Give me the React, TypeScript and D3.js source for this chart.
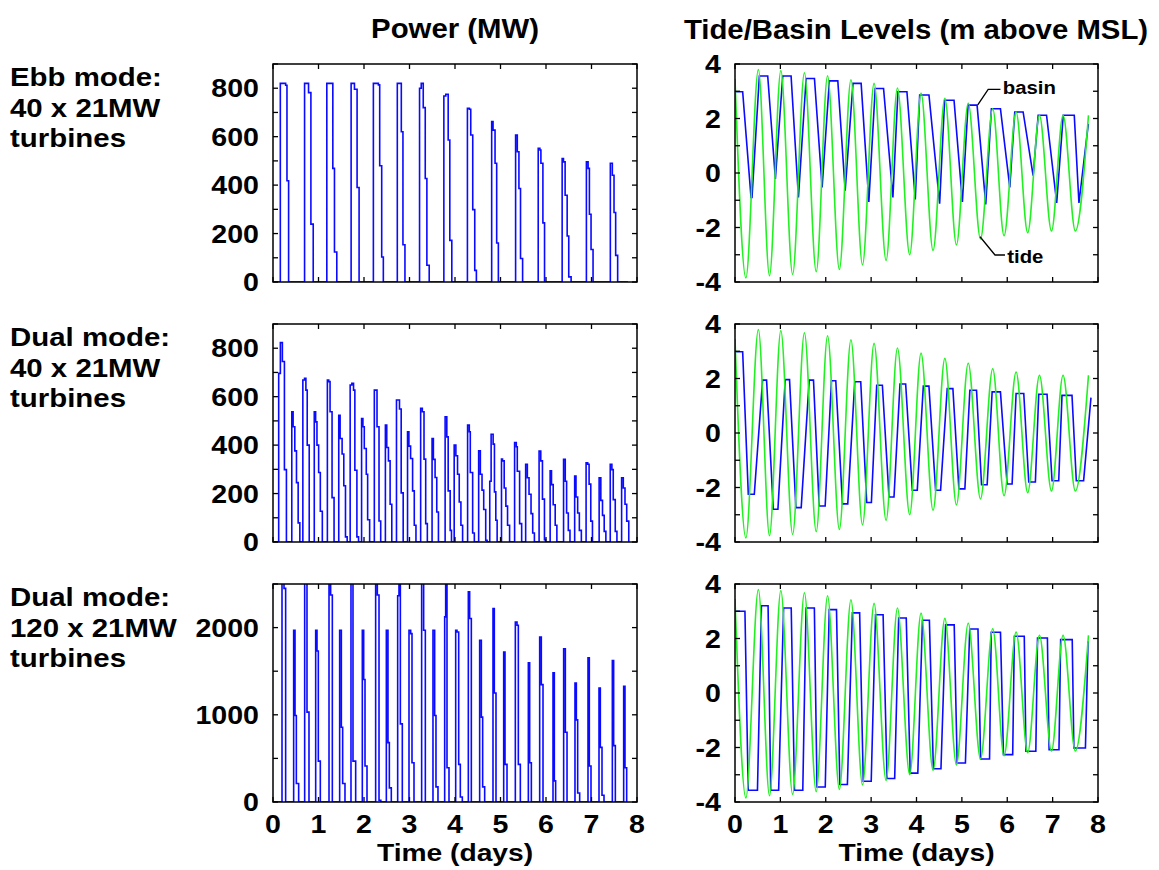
import React from "react";
import * as d3 from "d3";

// ---------- data (time in days, power in MW, levels in m above MSL) ----------
const dayTicks = [0, 1, 2, 3, 4, 5, 6, 7, 8];
const powerTicks40 = [0, 100, 200, 300, 400, 500, 600, 700, 800, 900];
const powerLabels40 = [0, 200, 400, 600, 800];
const powerTicks120 = [0, 500, 1000, 1500, 2000, 2500];
const powerLabels120 = [0, 1000, 2000];
const levelTicks = [-4, -3, -2, -1, 0, 1, 2, 3, 4];
const levelLabels = [-4, -2, 0, 2, 4];

const rowLabels = [
  ["Ebb mode:", "40 x 21MW", "turbines"],
  ["Dual mode:", "40 x 21MW", "turbines"],
  ["Dual mode:", "120 x 21MW", "turbines"],
];

// step points [day, MW]
const powerEbb40: [number, number][] = [
  [0, 0],
  [0.161, 820], [0.278, 812], [0.307, 418], [0.343, 0],
  [0.694, 820], [0.781, 782], [0.833, 239], [0.884, 0],
  [1.183, 820], [1.315, 469], [1.351, 124], [1.402, 0],
  [1.717, 820], [1.79, 796], [1.848, 390], [1.892, 0],
  [2.206, 820], [2.316, 814], [2.345, 480], [2.389, 103], [2.425, 0],
  [2.732, 820], [2.82, 620], [2.856, 154], [2.9, 0],
  [3.221, 800], [3.258, 820], [3.302, 720], [3.346, 427], [3.382, 69], [3.433, 0],
  [3.755, 768], [3.798, 775], [3.85, 586], [3.886, 172], [3.93, 0],
  [4.273, 717], [4.317, 713], [4.346, 607], [4.39, 299], [4.434, 48], [4.47, 0],
  [4.806, 662], [4.836, 627], [4.88, 490], [4.916, 161], [4.953, 0],
  [5.332, 607], [5.369, 538], [5.405, 386], [5.44, 97], [5.486, 0],
  [5.829, 552], [5.866, 545], [5.888, 490], [5.932, 244], [5.968, 0],
  [6.355, 510], [6.384, 496], [6.42, 358], [6.465, 190], [6.5, 21], [6.552, 0],
  [6.888, 496], [6.925, 469], [6.954, 280], [6.99, 134], [7.034, 0],
  [7.414, 490], [7.458, 441], [7.495, 287], [7.531, 110], [7.575, 0],
  [7.8, 0],
];

const powerDual40: [number, number][] = [
  [0, 0],
  [0.125, 696], [0.162, 823], [0.206, 745], [0.251, 299], [0.295, 0],
  [0.413, 538], [0.442, 476], [0.479, 376], [0.516, 245], [0.553, 79], [0.59, 0],
  [0.656, 669], [0.693, 676], [0.723, 627], [0.752, 400], [0.796, 0],
  [0.907, 538], [0.937, 496], [0.966, 400], [1.003, 287], [1.04, 127], [1.084, 0],
  [1.195, 669], [1.225, 662], [1.254, 538], [1.298, 183], [1.342, 0],
  [1.445, 523], [1.475, 427], [1.519, 363], [1.556, 232], [1.593, 21], [1.63, 0],
  [1.696, 648], [1.733, 655], [1.77, 627], [1.799, 296], [1.844, 21], [1.88, 0],
  [1.947, 510], [1.976, 476], [2.006, 386], [2.05, 280], [2.08, 92], [2.124, 0],
  [2.227, 627], [2.286, 476], [2.33, 87], [2.367, 0],
  [2.47, 483], [2.5, 390], [2.537, 335], [2.574, 156], [2.611, 0],
  [2.714, 586], [2.78, 549], [2.817, 203], [2.861, 0],
  [2.957, 455], [2.987, 396], [3.024, 345], [3.068, 211], [3.105, 69], [3.142, 0],
  [3.245, 552], [3.282, 538], [3.319, 342], [3.356, 76], [3.392, 0],
  [3.496, 427], [3.525, 341], [3.562, 266], [3.599, 124], [3.636, 0],
  [3.783, 517], [3.82, 434], [3.85, 211], [3.894, 48], [3.923, 0],
  [3.982, 400], [4.019, 356], [4.056, 280], [4.093, 165], [4.13, 69], [4.167, 0],
  [4.277, 483], [4.314, 455], [4.336, 287], [4.388, 37], [4.425, 0],
  [4.52, 376], [4.557, 280], [4.594, 214], [4.631, 134], [4.675, 7], [4.705, 0],
  [4.764, 251], [4.794, 445], [4.838, 404], [4.867, 207], [4.897, 90], [4.926, 0],
  [5.022, 342], [5.044, 335], [5.081, 223], [5.118, 148], [5.155, 69], [5.2, 0],
  [5.31, 411], [5.347, 393], [5.369, 292], [5.42, 76], [5.465, 0],
  [5.553, 321], [5.59, 265], [5.627, 197], [5.671, 117], [5.708, 37], [5.745, 0],
  [5.848, 375], [5.885, 335], [5.922, 177], [5.966, 10], [5.99, 0],
  [6.091, 294], [6.121, 237], [6.158, 154], [6.202, 69], [6.239, 0],
  [6.386, 341], [6.423, 251], [6.453, 120], [6.49, 48], [6.527, 0],
  [6.63, 272], [6.659, 186], [6.696, 120], [6.733, 48], [6.777, 0],
  [6.881, 327], [6.917, 321], [6.947, 239], [6.984, 86], [7.021, 0],
  [7.168, 265], [7.205, 172], [7.242, 110], [7.279, 44], [7.316, 0],
  [7.412, 321], [7.448, 299], [7.478, 175], [7.522, 44], [7.559, 0],
  [7.662, 265], [7.699, 223], [7.736, 156], [7.774, 86], [7.819, 0],
];

const powerDual120: [number, number][] = [
  [0, 0],
  [0.198, 2520], [0.242, 2450], [0.278, 0],
  [0.454, 1969], [0.484, 992], [0.513, 212], [0.564, 0],
  [0.696, 2520], [0.747, 1031], [0.791, 0],
  [0.938, 1969], [0.967, 1731], [0.996, 469], [1.04, 0],
  [1.231, 2520], [1.267, 2373], [1.304, 0],
  [1.465, 1969], [1.502, 858], [1.531, 212], [1.582, 0],
  [1.714, 2520], [1.758, 469], [1.817, 0],
  [1.963, 1969], [1.993, 1404], [2.022, 412], [2.066, 0],
  [2.256, 2520], [2.293, 2373], [2.33, 19], [2.37, 0],
  [2.491, 1969], [2.527, 681], [2.557, 162], [2.6, 0],
  [2.74, 2365], [2.769, 2520], [2.799, 896], [2.842, 0],
  [2.989, 1969], [3.026, 1931], [3.055, 450], [3.099, 0],
  [3.267, 2520], [3.311, 1969], [3.348, 0],
  [3.516, 1969], [3.553, 992], [3.582, 173], [3.626, 0],
  [3.773, 2123], [3.795, 2520], [3.824, 392], [3.868, 0],
  [4.015, 1969], [4.044, 1950], [4.081, 431], [4.117, 58], [4.161, 0],
  [4.293, 2411], [4.322, 2104], [4.359, 0],
  [4.542, 1854], [4.579, 973], [4.608, 173], [4.652, 0],
  [4.835, 2219], [4.864, 1250], [4.901, 0],
  [5.07, 1719], [5.099, 431], [5.143, 0],
  [5.326, 2065], [5.363, 2027], [5.392, 431], [5.436, 0],
  [5.612, 1596], [5.641, 450], [5.678, 0],
  [5.861, 1892], [5.897, 1346], [5.934, 0],
  [6.154, 1481], [6.183, 242], [6.212, 0],
  [6.388, 1758], [6.425, 800], [6.462, 0],
  [6.637, 1365], [6.667, 942], [6.696, 104], [6.74, 0],
  [6.923, 1654], [6.952, 412], [6.989, 0],
  [7.165, 1308], [7.194, 627], [7.231, 77], [7.275, 0],
  [7.458, 1623], [7.487, 646], [7.524, 0],
  [7.707, 1327], [7.736, 392], [7.773, 0],
];

// tide extrema [day, m]
const tideLevel: [number, number][] = [
  [0, 3.45], [0.24, -3.85], [0.515, 3.8], [0.76, -3.77], [1.01, 3.76], [1.27, -3.72],
  [1.53, 3.68], [1.79, -3.62], [2.04, 3.57], [2.3, -3.54], [2.555, 3.42], [2.81, -3.37],
  [3.065, 3.29], [3.33, -3.21], [3.58, 3.12], [3.85, -3.0], [4.1, 2.93], [4.365, -2.84],
  [4.625, 2.74], [4.88, -2.64], [5.14, 2.56], [5.41, -2.42], [5.68, 2.36], [5.93, -2.3],
  [6.195, 2.24], [6.45, -2.19], [6.71, 2.12], [6.975, -2.13], [7.23, 2.12], [7.5, -2.13],
  [7.79, 2.12],
];

// basin level vertices [day, m]
const basinEbb40: [number, number][] = [
  [0, 2.98], [0.169, 2.98], [0.353, -0.9], [0.375, -0.9], [0.537, 3.56], [0.721, 3.56],
  [0.89, -0.22], [1.052, 3.56], [1.236, 3.56], [1.398, -0.9], [1.567, 3.47], [1.751, 3.47],
  [1.92, -0.53], [2.08, 3.38], [2.266, 3.38], [2.428, -0.65], [2.6, 3.29], [2.78, 3.29],
  [2.95, -1.06], [3.09, 3.1], [3.274, 3.1], [3.48, -0.9], [3.591, 2.98], [3.789, 2.98],
  [3.973, -0.97], [4.07, 2.86], [4.275, 2.86], [4.51, -1.13], [4.62, 2.67], [4.827, 2.67],
  [5.011, -1.06], [5.136, 2.49], [5.335, 2.49], [5.526, -1.15], [5.651, 2.36], [5.85, 2.36],
  [6.056, -0.53], [6.166, 2.24], [6.35, 2.24], [6.57, -0.1], [6.682, 2.12], [6.866, 2.12],
  [7.09, -1.1], [7.234, 2.12], [7.477, 2.12], [7.58, -1.1], [7.787, 1.8],
];

const basinDual40: [number, number][] = [
  [0, 2.98], [0.169, 2.98], [0.293, -2.25], [0.425, -2.25], [0.608, 1.94], [0.696, 1.94],
  [0.843, -2.8], [0.946, -2.8], [1.107, 1.96], [1.202, 1.96], [1.342, -2.74], [1.459, -2.74],
  [1.635, 1.94], [1.73, 1.94], [1.855, -2.68], [1.987, -2.68], [2.126, 1.92], [2.221, 1.92],
  [2.368, -2.6], [2.485, -2.6], [2.639, 1.88], [2.771, 1.88], [2.903, -2.55], [3.006, -2.55],
  [3.123, 1.75], [3.248, 1.75], [3.394, -2.35], [3.504, -2.35], [3.636, 1.8], [3.761, 1.8],
  [3.907, -2.1], [4.017, -2.1], [4.15, 1.72], [4.274, 1.72], [4.421, -2.1], [4.531, -2.1],
  [4.677, 1.63], [4.802, 1.63], [4.934, -2.05], [5.066, -2.05], [5.176, 1.57], [5.323, 1.57],
  [5.433, -1.9], [5.557, -1.9], [5.667, 1.51], [5.85, 1.51], [5.997, -1.87], [6.107, -1.87],
  [6.195, 1.45], [6.364, 1.45], [6.474, -1.8], [6.62, -1.8], [6.694, 1.42], [6.877, 1.42],
  [6.987, -1.75], [7.134, -1.75], [7.207, 1.38], [7.427, 1.38], [7.522, -1.75], [7.683, -1.75],
  [7.845, 1.3],
];

const basinDual120: [number, number][] = [
  [0, 3.0], [0.219, 3.0], [0.291, -3.57], [0.495, -3.57], [0.583, 3.2], [0.729, 3.2],
  [0.787, -3.57], [0.962, -3.57], [1.071, 3.12], [1.239, 3.12], [1.311, -3.57], [1.494, -3.57],
  [1.566, 3.12], [1.749, 3.12], [1.807, -3.45], [1.989, -3.45], [2.077, 3.06], [2.237, 3.06],
  [2.31, -3.36], [2.477, -3.36], [2.587, 2.94], [2.747, 2.94], [2.827, -3.24], [3.002, -3.24],
  [3.097, 2.87], [3.264, 2.87], [3.352, -3.14], [3.519, -3.14], [3.607, 2.75], [3.774, 2.75],
  [3.862, -2.94], [4.029, -2.94], [4.131, 2.67], [4.284, 2.67], [4.372, -2.78], [4.539, -2.78],
  [4.641, 2.5], [4.831, 2.5], [4.896, -2.57], [5.078, -2.57], [5.173, 2.35], [5.355, 2.35],
  [5.413, -2.42], [5.61, -2.42], [5.647, 2.23], [5.851, 2.23], [5.916, -2.26], [6.12, -2.26],
  [6.157, 2.08], [6.375, 2.08], [6.412, -2.14], [6.63, -2.14], [6.667, 2.02], [6.885, 2.02],
  [6.922, -2.08], [7.14, -2.08], [7.177, 1.96], [7.432, 1.96], [7.468, -2.02], [7.723, -2.02],
  [7.781, 1.9],
];

// annotation anchors in data units (top-right panel)
const basinLeader: [number, number][] = [[5.35, 2.5], [5.58, 3.07], [5.85, 3.07]];
const tideLeader: [number, number][] = [[5.4, -2.34], [5.73, -3.01], [5.95, -3.01]];

// ---------- layout ----------
const FONT = "'Liberation Sans', Arial, Helvetica, sans-serif";
const BLUE = "#0a0aff";
const GREEN = "#22f022";
const rowTops = [64, 324, 584];
const PANEL_H = 218;
const LEFT_X = [273, 637];
const RIGHT_X = [735, 1098];

function T(props: {
  x: number;
  y: number;
  size: number;
  sx?: number;
  anchor?: "start" | "middle" | "end";
  dy?: string;
  children: React.ReactNode;
}) {
  const { x, y, size, sx = 1, anchor = "start", dy } = props;
  return (
    <text
      transform={`translate(${x},${y}) scale(${sx},1)`}
      textAnchor={anchor}
      dy={dy}
      fontSize={size}
      fontWeight="bold"
      fontFamily={FONT}
      fill="#000"
    >
      {props.children}
    </text>
  );
}

type Series = { data: [number, number][]; color: string; curve: any };

function Panel(props: {
  id: string;
  xr: number[];
  top: number;
  yDomain: [number, number];
  yTicks: number[];
  yLabels: number[];
  showX: boolean;
  series: Series[];
  children?: (x: any, y: any) => React.ReactNode;
}) {
  const { id, xr, top, yDomain, yTicks, yLabels, showX, series } = props;
  const x = d3.scaleLinear().domain([0, 8]).range(xr);
  const y = d3.scaleLinear().domain(yDomain).range([top + PANEL_H, top]);
  const L = xr[0], R = xr[1], Tp = top, B = top + PANEL_H;
  const tk = 5;
  return (
    <g>
      <defs>
        <clipPath id={id}>
          <rect x={L} y={Tp} width={R - L} height={B - Tp} />
        </clipPath>
      </defs>
      <g clipPath={`url(#${id})`}>
        {series.map((s, i) => {
          const gen = d3
            .line<[number, number]>()
            .x((d) => x(d[0]))
            .y((d) => y(d[1]))
            .curve(s.curve);
          return (
            <path key={i} d={gen(s.data) || ""} fill="none" stroke={s.color} strokeWidth={1.6} strokeLinejoin="miter" />
          );
        })}
      </g>
      <rect x={L} y={Tp} width={R - L} height={B - Tp} fill="none" stroke="#000" strokeWidth={1.5} />
      {dayTicks.map((d) => (
        <g key={"xt" + d}>
          <line x1={x(d)} x2={x(d)} y1={B} y2={B - tk} stroke="#000" strokeWidth={1.3} />
          <line x1={x(d)} x2={x(d)} y1={Tp} y2={Tp + tk} stroke="#000" strokeWidth={1.3} />
        </g>
      ))}
      {yTicks.map((v) => (
        <g key={"yt" + v}>
          <line x1={L} x2={L + tk} y1={y(v)} y2={y(v)} stroke="#000" strokeWidth={1.3} />
          <line x1={R} x2={R - tk} y1={y(v)} y2={y(v)} stroke="#000" strokeWidth={1.3} />
        </g>
      ))}
      {yLabels.map((v) => (
        <T key={"yl" + v} x={L - 14} y={y(v)} dy="0.36em" anchor="end" size={25.5} sx={1.12}>
          {v < 0 ? "-" + Math.abs(v) : String(v)}
        </T>
      ))}
      {showX &&
        dayTicks.map((d) => (
          <T key={"xl" + d} x={x(d)} y={B + 31} anchor="middle" size={25.5} sx={1.12}>
            {d}
          </T>
        ))}
      {showX && (
        <T x={(L + R) / 2} y={B + 59} anchor="middle" size={23.5} sx={1.2}>
          Time (days)
        </T>
      )}
      {props.children && props.children(x, y)}
    </g>
  );
}

export default function App() {
  const powerSets = [
    { data: powerEbb40, dom: [0, 900] as [number, number], ticks: powerTicks40, labels: powerLabels40 },
    { data: powerDual40, dom: [0, 900] as [number, number], ticks: powerTicks40, labels: powerLabels40 },
    { data: powerDual120, dom: [0, 2500] as [number, number], ticks: powerTicks120, labels: powerLabels120 },
  ];
  const basinSets = [basinEbb40, basinDual40, basinDual120];
  const line = d3.line<[number, number]>();
  return (
    <svg
      width={1159}
      height={870}
      style={{ position: "absolute", left: 0, top: 0, background: "#fff" }}
      fontFamily={FONT}
    >
      <rect x={0} y={0} width={1159} height={870} fill="#fff" />
      <T x={(LEFT_X[0] + LEFT_X[1]) / 2} y={38} anchor="middle" size={28.5} sx={1.03}>
        Power (MW)
      </T>
      <T x={916} y={39} anchor="middle" size={28.5} sx={1.03}>
        Tide/Basin Levels (m above MSL)
      </T>
      {rowLabels.map((lines, r) =>
        lines.map((s, i) => (
          <T key={"rl" + r + "_" + i} x={10} y={86 + rowTops[r] - rowTops[0] + i * 30.5} size={26.5} sx={1.11}>
            {s}
          </T>
        ))
      )}
      {powerSets.map((p, r) => (
        <Panel
          key={"p" + r}
          id={"clipP" + r}
          xr={LEFT_X}
          top={rowTops[r]}
          yDomain={p.dom}
          yTicks={p.ticks}
          yLabels={p.labels}
          showX={r === 2}
          series={[{ data: p.data, color: BLUE, curve: d3.curveStepAfter }]}
        />
      ))}
      {basinSets.map((b, r) => (
        <Panel
          key={"l" + r}
          id={"clipL" + r}
          xr={RIGHT_X}
          top={rowTops[r]}
          yDomain={[-4, 4]}
          yTicks={levelTicks}
          yLabels={levelLabels}
          showX={r === 2}
          series={[
            { data: b, color: BLUE, curve: d3.curveLinear },
            { data: tideLevel, color: GREEN, curve: d3.curveMonotoneX },
          ]}
        >
          {r === 0
            ? (x, y) => (
                <g>
                  <path
                    d={line.x((d) => x(d[0])).y((d) => y(d[1]))(basinLeader) || ""}
                    fill="none"
                    stroke="#000"
                    strokeWidth={1.3}
                  />
                  <path
                    d={line.x((d) => x(d[0])).y((d) => y(d[1]))(tideLeader) || ""}
                    fill="none"
                    stroke="#000"
                    strokeWidth={1.3}
                  />
                  <T x={x(5.9)} y={y(2.9)} size={18.5} sx={1.1}>
                    basin
                  </T>
                  <T x={x(6.0)} y={y(-3.29)} size={18.5} sx={1.1}>
                    tide
                  </T>
                </g>
              )
            : undefined}
        </Panel>
      ))}
    </svg>
  );
}
